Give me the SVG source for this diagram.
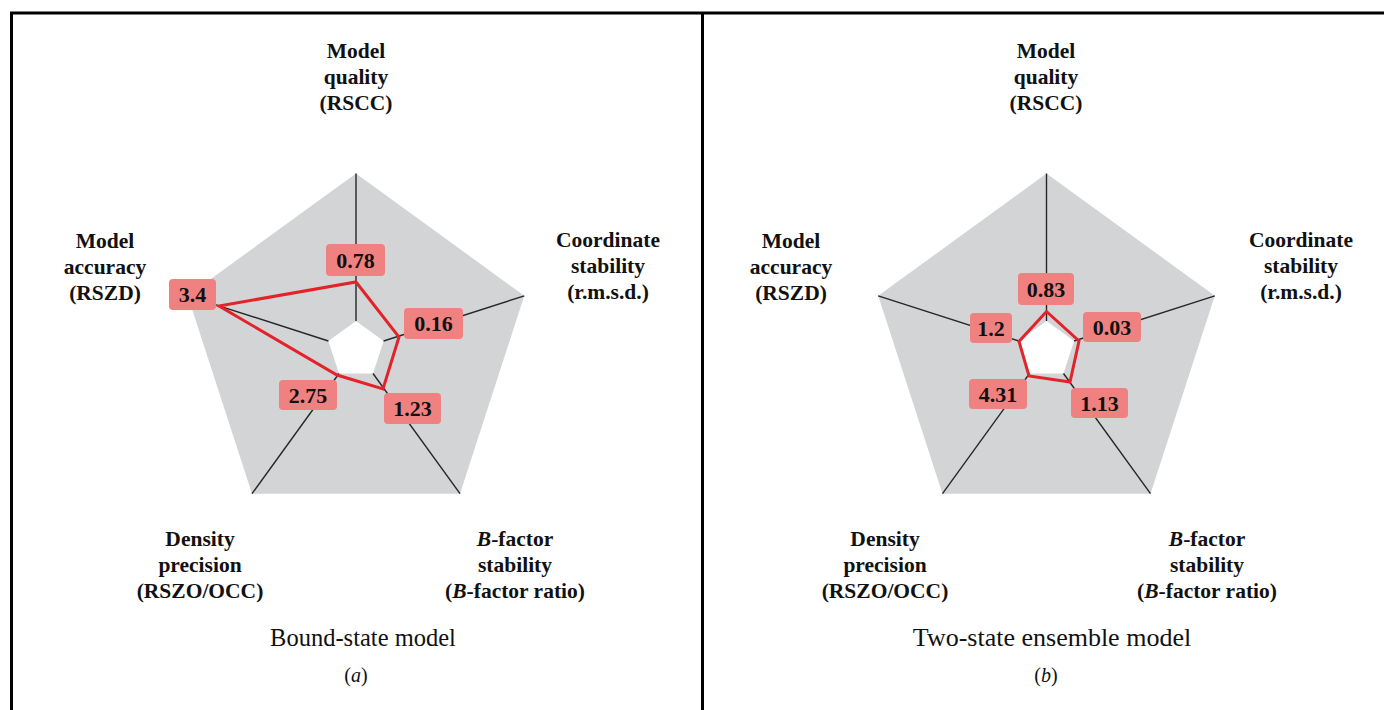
<svg xmlns="http://www.w3.org/2000/svg" width="1384" height="710" viewBox="0 0 1384 710">
<style>
.frame{stroke:#000;stroke-width:3;fill:none}
.bg{fill:#d3d4d5}
.hole{fill:#fff}
.axis{stroke:#262626;stroke-width:1.4;fill:none}
.poly{stroke:#e3222a;stroke-width:3;fill:none;stroke-linejoin:miter}
.tag{fill:#ef8181}
.val{font-family:"Liberation Serif","Times New Roman",serif;font-weight:bold;font-size:22px;fill:#111;text-anchor:middle}
.lab{font-family:"Liberation Serif","Times New Roman",serif;font-weight:bold;font-size:21.5px;fill:#111;text-anchor:middle}
.cap{font-family:"Liberation Serif","Times New Roman",serif;font-size:24.5px;fill:#111;text-anchor:middle}
.cap2{font-size:26px}
.sub{font-family:"Liberation Serif","Times New Roman",serif;font-size:20px;fill:#111;text-anchor:middle}
</style>
<rect width="1384" height="710" fill="#fff"/>
<g id="frame">
<path class="frame" d="M11.5,710 V13 H1384 M702.5,13 V710"/>
</g>

<g id="chart-a">
<polygon class="bg" points="356,173.5 524.3,295.8 460,493.7 252,493.7 187.7,295.8"/>
<polygon class="hole" points="356,321 383.6,341 373,373.5 339,373.5 328.4,341"/>
</g>
<g id="chart-b">
<polygon class="bg" points="1046.5,173.5 1214.8,295.8 1150.5,493.7 942.5,493.7 878.2,295.8"/>
<polygon class="hole" points="1046.5,321 1074.1,341 1063.5,373.5 1029.5,373.5 1018.9,341"/>
</g>

<g id="connectors">
<line class="axis" x1="356" y1="321" x2="356" y2="173.5"/>
<line class="axis" x1="383.6" y1="341" x2="524.3" y2="295.8"/>
<line class="axis" x1="373" y1="373.5" x2="460" y2="493.7"/>
<line class="axis" x1="339" y1="373.5" x2="252" y2="493.7"/>
<line class="axis" x1="328.4" y1="341" x2="187.7" y2="295.8"/>
<line class="axis" x1="1046.5" y1="321" x2="1046.5" y2="173.5"/>
<line class="axis" x1="1074.1" y1="341" x2="1214.8" y2="295.8"/>
<line class="axis" x1="1063.5" y1="373.5" x2="1150.5" y2="493.7"/>
<line class="axis" x1="1029.5" y1="373.5" x2="942.5" y2="493.7"/>
<line class="axis" x1="1018.9" y1="341" x2="878.2" y2="295.8"/>
<polygon class="poly" points="356,282 399,337 383,389 337,375 219,306"/>
<polygon class="poly" points="1046.5,311.5 1079,341 1070,382 1029,376 1019,341.5"/>
</g>

<g id="values-a">
<g id="v-a-top"><rect class="tag" x="326" y="244" width="59" height="32" rx="4"/><text class="val" x="355.5" y="267.5">0.78</text></g>
<g id="v-a-right"><rect class="tag" x="404" y="308" width="59" height="31" rx="4"/><text class="val" x="433.5" y="331">0.16</text></g>
<g id="v-a-br"><rect class="tag" x="384" y="393" width="57" height="31" rx="4"/><text class="val" x="412.5" y="416">1.23</text></g>
<g id="v-a-bl"><rect class="tag" x="279" y="380" width="58" height="30" rx="4"/><text class="val" x="308" y="402.5">2.75</text></g>
<g id="v-a-left"><rect class="tag" x="169" y="279" width="47" height="31" rx="4"/><text class="val" x="192.5" y="302">3.4</text></g>
</g>
<g id="values-b">
<g id="v-b-top"><rect class="tag" x="1018" y="273" width="56" height="32" rx="4"/><text class="val" x="1046" y="296.5">0.83</text></g>
<g id="v-b-right"><rect class="tag" x="1083" y="312" width="58" height="30" rx="4"/><text class="val" x="1112" y="334.5">0.03</text></g>
<g id="v-b-br"><rect class="tag" x="1071" y="388" width="57" height="30" rx="4"/><text class="val" x="1099.5" y="410.5">1.13</text></g>
<g id="v-b-bl"><rect class="tag" x="969" y="379" width="58" height="30" rx="4"/><text class="val" x="998" y="401.5">4.31</text></g>
<g id="v-b-left"><rect class="tag" x="970" y="313" width="42" height="30" rx="4"/><text class="val" x="991" y="335.5">1.2</text></g>
</g>

<g id="labels-a">
<text class="lab" x="356" y="58">Model</text>
<text class="lab" x="356" y="84">quality</text>
<text class="lab" x="356" y="110">(RSCC)</text>
<text class="lab" x="608" y="247">Coordinate</text>
<text class="lab" x="608" y="273">stability</text>
<text class="lab" x="608" y="299">(r.m.s.d.)</text>
<text class="lab" x="105" y="248">Model</text>
<text class="lab" x="105" y="274">accuracy</text>
<text class="lab" x="105" y="300">(RSZD)</text>
<text class="lab" x="200" y="546">Density</text>
<text class="lab" x="200" y="572">precision</text>
<text class="lab" x="200" y="598">(RSZO/OCC)</text>
<text class="lab" x="515" y="546"><tspan font-style="italic">B</tspan>-factor</text>
<text class="lab" x="515" y="572">stability</text>
<text class="lab" x="515" y="598">(<tspan font-style="italic">B</tspan>-factor ratio)</text>
<text class="cap" x="363" y="646">Bound-state model</text>
<text class="sub" x="356" y="682">(<tspan font-style="italic">a</tspan>)</text>
</g>
<g id="labels-b">
<text class="lab" x="1046" y="58">Model</text>
<text class="lab" x="1046" y="84">quality</text>
<text class="lab" x="1046" y="110">(RSCC)</text>
<text class="lab" x="1301" y="247">Coordinate</text>
<text class="lab" x="1301" y="273">stability</text>
<text class="lab" x="1301" y="299">(r.m.s.d.)</text>
<text class="lab" x="791" y="248">Model</text>
<text class="lab" x="791" y="274">accuracy</text>
<text class="lab" x="791" y="300">(RSZD)</text>
<text class="lab" x="885" y="546">Density</text>
<text class="lab" x="885" y="572">precision</text>
<text class="lab" x="885" y="598">(RSZO/OCC)</text>
<text class="lab" x="1207" y="546"><tspan font-style="italic">B</tspan>-factor</text>
<text class="lab" x="1207" y="572">stability</text>
<text class="lab" x="1207" y="598">(<tspan font-style="italic">B</tspan>-factor ratio)</text>
<text class="cap cap2" x="1052" y="646">Two-state ensemble model</text>
<text class="sub" x="1046" y="682">(<tspan font-style="italic">b</tspan>)</text>
</g>
</svg>
